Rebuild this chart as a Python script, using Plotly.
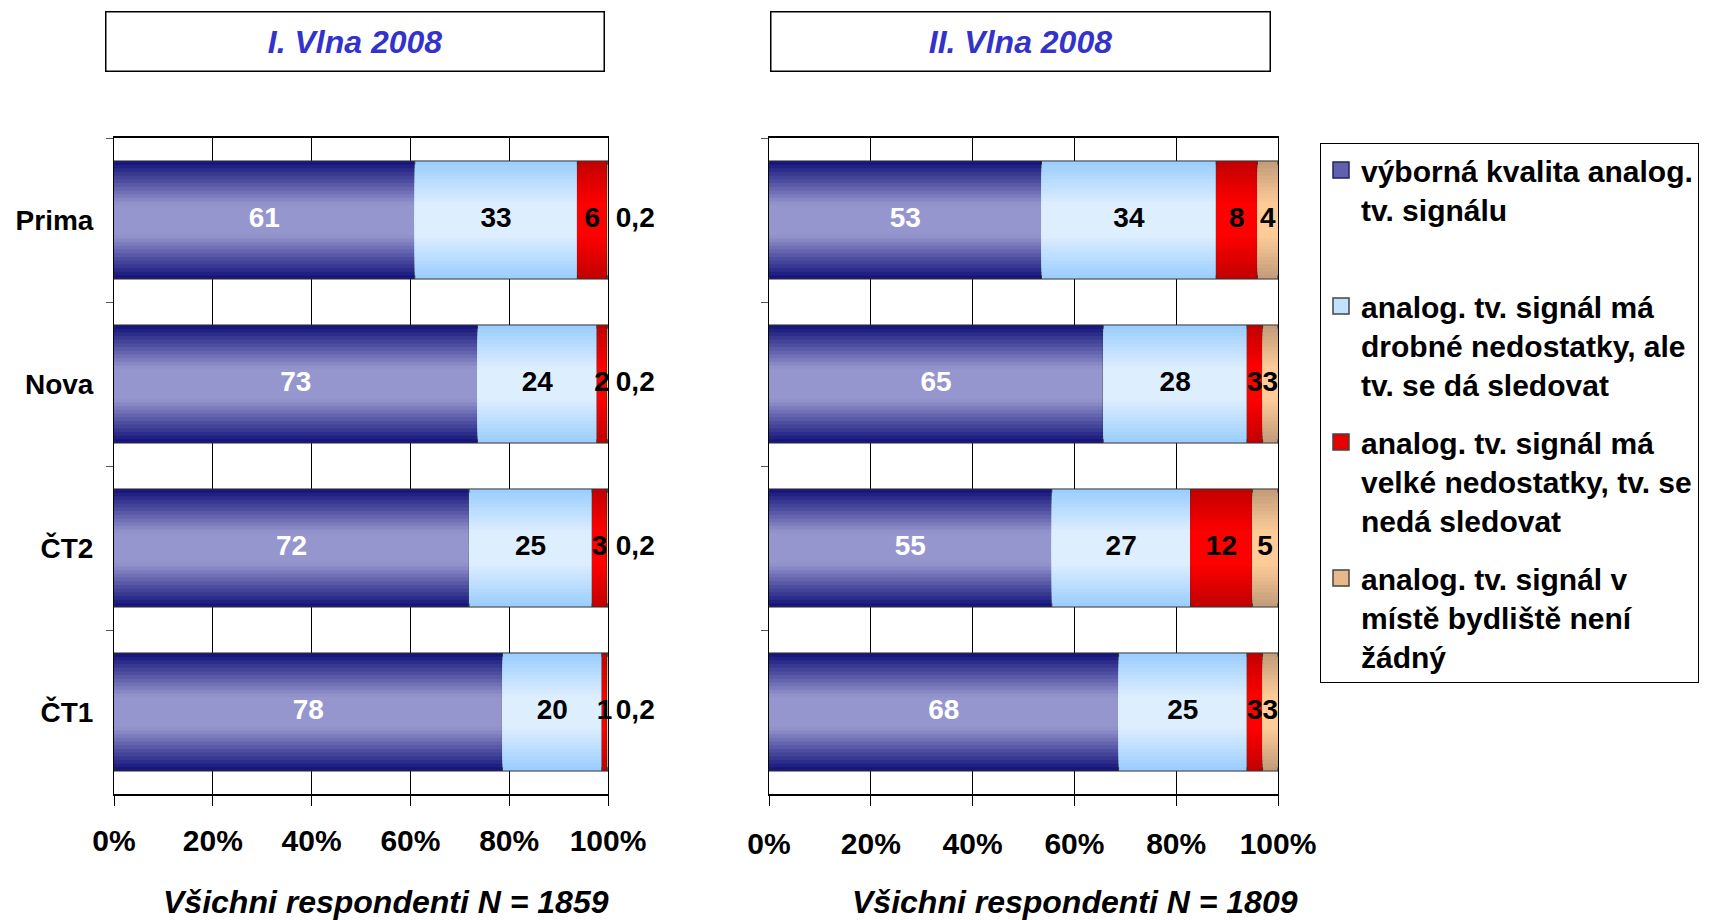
import plotly.graph_objects as go
from plotly.subplots import make_subplots

# stanice shora dolu
stanice = ["Prima", "Nova", "ČT2", "ČT1"]

serie = [
    "výborná kvalita analog.<br>tv. signálu<br> ",
    "analog. tv. signál má<br>drobné nedostatky, ale<br>tv. se dá sledovat",
    "analog. tv. signál má<br>velké nedostatky, tv. se<br>nedá sledovat",
    "analog. tv. signál v<br>místě bydliště není<br>žádný",
]

# I. vlna 2008
vlna1_vyborna = [61, 73, 72, 78]
vlna1_drobne = [33, 24, 25, 20]
vlna1_velke = [6, 2, 3, 1]
vlna1_zadny = [0.2, 0.2, 0.2, 0.2]

# II. vlna 2008
vlna2_vyborna = [53, 65, 55, 68]
vlna2_drobne = [34, 28, 27, 25]
vlna2_velke = [8, 3, 12, 3]
vlna2_zadny = [4, 3, 5, 3]

procenta = [0, 20, 40, 60, 80, 100]
procenta_text = ["0%", "20%", "40%", "60%", "80%", "100%"]

# barvy: okraj -> stred (prechod jako v Excelu)
okraj = [(16, 16, 120), (153, 204, 255), (192, 0, 0), (192, 154, 120)]
stred = [(150, 150, 206), (221, 238, 255), (255, 0, 0), (255, 204, 153)]
text_barva = ["white", "black", "black", "black"]

FONT = "Arial, Liberation Sans, sans-serif"
VRSTVY = 16
SIRKA = 0.72


def mix(a, b, t):
    t = max(0.0, min(1.0, t))
    return "rgb(%d,%d,%d)" % tuple(round(a[i] + (b[i] - a[i]) * t) for i in range(3))


def popisek(v):
    return str(v).replace(".", ",")


fig = make_subplots(rows=1, cols=2, horizontal_spacing=0.05)

vlny = [
    [vlna1_vyborna, vlna1_drobne, vlna1_velke, vlna1_zadny],
    [vlna2_vyborna, vlna2_drobne, vlna2_velke, vlna2_zadny],
]

for col, data in enumerate(vlny, start=1):
    soucty = [sum(s[i] for s in data) for i in range(len(stanice))]
    base = [0.0] * len(stanice)
    for j, hodnoty in enumerate(data):
        pct = [hodnoty[i] / soucty[i] * 100 for i in range(len(stanice))]
        for k in range(VRSTVY):
            f = 1 - k / VRSTVY
            fig.add_trace(go.Bar(
                y=stanice, x=pct, base=base, orientation="h",
                width=SIRKA * f,
                marker=dict(color=mix(okraj[j], stred[j], (k + 0.5) / VRSTVY * 1.35),
                            line=dict(color="#333333", width=1 if k == 0 else 0)),
                showlegend=False, hoverinfo="skip" if k else "x+y",
            ), row=1, col=col)
        konce = [base[i] + pct[i] for i in range(len(stanice))]
        if col == 1 and j == 3:
            # popisek za koncem pruhu
            tx, pos = konce, "middle right"
            texty = [" " + popisek(v) for v in hodnoty]
        else:
            tx, pos = [base[i] + pct[i] / 2 for i in range(len(stanice))], "middle center"
            texty = [popisek(v) for v in hodnoty]
        fig.add_trace(go.Scatter(
            y=stanice, x=tx, mode="text", text=texty,
            textposition=pos, cliponaxis=False,
            textfont=dict(family=FONT, size=28, color=text_barva[j], weight="bold"),
            showlegend=False, hoverinfo="skip",
        ), row=1, col=col)
        base = konce

# legenda
for j, nazev in enumerate(serie):
    fig.add_trace(go.Scatter(
        x=[None], y=[None], mode="markers", name=nazev, legendgroup=str(j),
        marker=dict(symbol="square", size=16, color=mix(okraj[j], stred[j], 0.6),
                    line=dict(color="#222266" if j == 0 else "#444444", width=1.5)),
    ), row=1, col=1)

osa_x = dict(range=[0, 100], tickvals=procenta, ticktext=procenta_text,
             showgrid=True, gridcolor="black", gridwidth=1,
             showline=True, linecolor="black", linewidth=1.5, mirror=True,
             ticks="outside", ticklen=10, tickcolor="black",
             tickfont=dict(family=FONT, size=30, color="black", weight="bold"),
             ticklabelstandoff=9, zeroline=False, fixedrange=True)
osa_y = dict(autorange="reversed", type="category", tickson="boundaries",
             ticks="outside", ticklen=7, tickcolor="#555555",
             showline=True, linecolor="black", linewidth=1, mirror=True,
             showgrid=False,
             tickfont=dict(family=FONT, size=28, color="black", weight="bold"),
             ticklabelstandoff=14)

fig.update_xaxes(**osa_x)
fig.update_yaxes(**osa_y)
fig.update_xaxes(domain=[114 / 1715, 608 / 1715], row=1, col=1)
fig.update_xaxes(domain=[769 / 1715, 1278 / 1715], ticklabelstandoff=12, row=1, col=2)
fig.update_yaxes(domain=[1 - 794 / 920, 1 - 138 / 920])
fig.update_yaxes(showticklabels=False, row=1, col=2)

titulky = [("I. Vlna 2008", 105, 604), ("II. Vlna 2008", 770, 1270)]
osy_nadpisy = [("Všichni respondenti N = 1859", 386), ("Všichni respondenti N = 1809", 1075)]

anotace = []
for text, x0, x1 in titulky:
    anotace.append(dict(
        text="<b><i>%s</i></b>" % text, xref="paper", yref="paper",
        x=(x0 + x1) / 2 / 1715, y=1 - 42 / 920, xanchor="center", yanchor="middle",
        showarrow=False, width=x1 - x0 - 4, height=56, borderpad=1,
        bordercolor="black", borderwidth=1.5, bgcolor="white",
        font=dict(family=FONT, size=32, color="#3333cc"),
    ))
for text, xc in osy_nadpisy:
    anotace.append(dict(
        text="<b><i>%s</i></b>" % text, xref="paper", yref="paper",
        x=xc / 1715, y=1 - 902 / 920, xanchor="center", yanchor="middle",
        showarrow=False, font=dict(family=FONT, size=32, color="black"),
    ))

fig.update_layout(
    width=1715, height=920,
    margin=dict(l=0, r=0, t=0, b=0, autoexpand=False),
    barmode="overlay",
    paper_bgcolor="white", plot_bgcolor="white",
    annotations=anotace,
    legend=dict(x=1320 / 1715, y=1 - 143 / 920, xanchor="left", yanchor="top",
                bordercolor="black", borderwidth=1, bgcolor="white",
                valign="top", tracegroupgap=16,
                font=dict(family=FONT, size=30, color="black", weight="bold")),
    showlegend=True,
)

fig.write_html("out.html", config={"displayModeBar": False},
               post_script="document.body.style.margin='0';")
